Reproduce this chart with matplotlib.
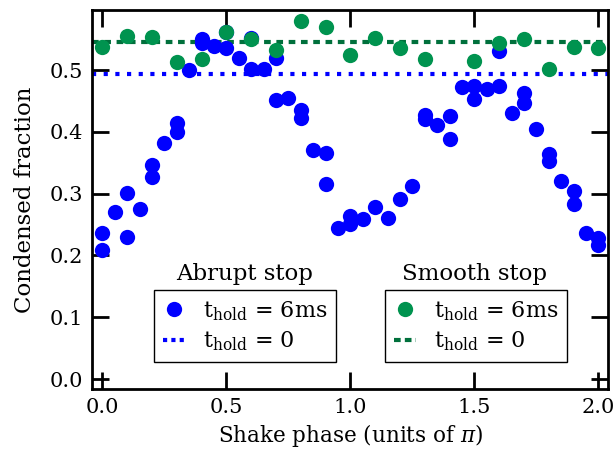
import numpy as np
import matplotlib
matplotlib.use('Agg')
import matplotlib.pyplot as plt
from matplotlib.lines import Line2D

plt.rcParams['font.family'] = 'DejaVu Serif'
plt.rcParams['mathtext.fontset'] = 'dejavuserif'
plt.rcParams['font.size'] = 15
plt.rcParams['axes.linewidth'] = 2

# abrupt stop, t_hold = 6ms
blue_x = [0.00, 0.00, 0.05, 0.10, 0.10, 0.15, 0.20, 0.20, 0.25, 0.30, 0.30,
          0.35, 0.40, 0.40, 0.45, 0.50, 0.50, 0.55, 0.60, 0.60, 0.65, 0.70,
          0.70, 0.75, 0.80, 0.80, 0.85, 0.90, 0.90, 0.95, 1.00, 1.00, 1.05,
          1.10, 1.15, 1.20, 1.25, 1.30, 1.30, 1.35, 1.40, 1.40, 1.45, 1.50,
          1.50, 1.55, 1.60, 1.60, 1.65, 1.70, 1.70, 1.75, 1.80, 1.80, 1.85,
          1.90, 1.90, 1.95, 2.00, 2.00]
blue_y = [0.236, 0.209, 0.271, 0.301, 0.230, 0.275, 0.347, 0.327, 0.382, 0.415, 0.399,
          0.500, 0.551, 0.543, 0.539, 0.561, 0.536, 0.520, 0.552, 0.501, 0.502, 0.520,
          0.452, 0.454, 0.435, 0.422, 0.371, 0.366, 0.316, 0.245, 0.264, 0.251, 0.259,
          0.279, 0.260, 0.291, 0.312, 0.427, 0.420, 0.411, 0.426, 0.388, 0.472, 0.474,
          0.453, 0.469, 0.474, 0.530, 0.431, 0.463, 0.446, 0.405, 0.364, 0.353, 0.321,
          0.305, 0.283, 0.237, 0.229, 0.217]

# smooth stop, t_hold = 6ms
green_x = [0.0, 0.1, 0.2, 0.3, 0.4, 0.5, 0.6, 0.7, 0.8, 0.9, 1.0,
           1.1, 1.2, 1.3, 1.5, 1.6, 1.7, 1.8, 1.9, 2.0]
green_y = [0.537, 0.555, 0.553, 0.513, 0.518, 0.562, 0.550, 0.533, 0.580, 0.570, 0.524,
           0.552, 0.535, 0.518, 0.515, 0.543, 0.550, 0.501, 0.538, 0.536]

# t_hold = 0 levels
blue_hold0 = 0.494
green_hold0 = 0.545

blue = '#0000ff'
green = '#00934f'
dkgreen = '#00703c'

fig = plt.figure(figsize=(6.16, 4.58), dpi=100)
ax = fig.add_axes([0.149, 0.150, 0.8385, 0.828])

ax.axhline(blue_hold0, color=blue, lw=3, dashes=(1.0, 1.8), zorder=1)
ax.axhline(green_hold0, color=dkgreen, lw=3, dashes=(1.6, 1.35), zorder=1)
ax.plot(blue_x, blue_y, 'o', color=blue, ms=11, mew=0, zorder=2)
ax.plot(green_x, green_y, 'o', color=green, ms=11, mew=0, zorder=3)

ax.set_xlim(-0.043, 2.04)
ax.set_ylim(-0.0165, 0.597)
ax.set_xticks(np.arange(0, 2.01, 0.5))
ax.set_yticks(np.arange(0, 0.51, 0.1))
ax.tick_params(direction='in', length=12.5, width=2, top=True, right=True, pad=6)

ax.set_xlabel('Shake phase (units of $\\pi$)', fontsize=15.5, labelpad=4)
ax.set_ylabel('Condensed fraction', fontsize=16.5, labelpad=10)

lab6 = 't$_\\mathrm{hold}$ = 6ms'
lab0 = 't$_\\mathrm{hold}$ = 0'

h1 = [Line2D([], [], ls='none', marker='o', color=blue, ms=11, mew=0),
      Line2D([], [], color=blue, lw=3, dashes=(1.0, 1.0))]
leg1 = ax.legend(h1, [lab6, lab0], loc='lower left', bbox_to_anchor=(0.120, 0.072),
                 fancybox=False, edgecolor='k', framealpha=1, handlelength=1.0,
                 handletextpad=0.8, borderpad=0.4, labelspacing=0.3, borderaxespad=0,
                 fontsize=16)
leg1.get_frame().set_linewidth(1)
ax.add_artist(leg1)

h2 = [Line2D([], [], ls='none', marker='o', color=green, ms=11, mew=0),
      Line2D([], [], color=dkgreen, lw=3, dashes=(1.6, 1.0))]
leg2 = ax.legend(h2, [lab6, lab0], loc='lower left', bbox_to_anchor=(0.567, 0.072),
                 fancybox=False, edgecolor='k', framealpha=1, handlelength=1.0,
                 handletextpad=0.8, borderpad=0.4, labelspacing=0.3, borderaxespad=0,
                 fontsize=16)
leg2.get_frame().set_linewidth(1)

ax.text(0.295, 0.304, 'Abrupt stop', transform=ax.transAxes, ha='center', va='center',
        fontsize=16.5)
ax.text(0.741, 0.304, 'Smooth stop', transform=ax.transAxes, ha='center', va='center',
        fontsize=16.5)

plt.savefig('out.png', dpi=100)
